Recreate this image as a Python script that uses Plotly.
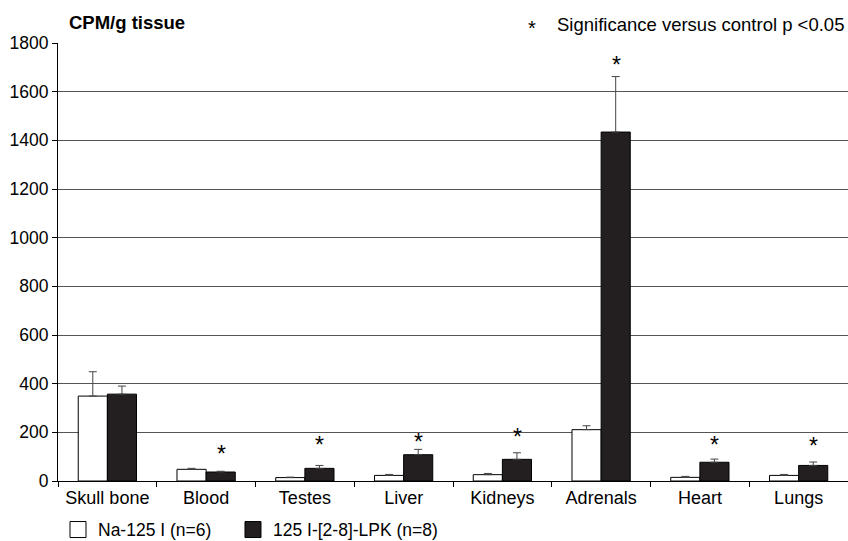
import plotly.graph_objects as go

categories = ["Skull bone", "Blood", "Testes", "Liver", "Kidneys", "Adrenals", "Heart", "Lungs"]
na125 = [349, 48, 14, 23, 26, 211, 15, 23]
na125_err = [100, 4, 2, 4, 5, 16, 4, 4]
lpk = [357, 37, 52, 108, 89, 1434, 77, 64]
lpk_err = [33, 3, 12, 22, 27, 228, 13, 14]
star_cats = ["Blood", "Testes", "Liver", "Kidneys", "Adrenals", "Heart", "Lungs"]
star_y = [124, 161, 173, 193, 1721, 160, 156]
yticks = [0, 200, 400, 600, 800, 1000, 1200, 1400, 1600, 1800]

FONT = "Liberation Sans, Arial, sans-serif"

fig = go.Figure()
fig.add_trace(go.Bar(
    x=categories, y=na125, name="Na-125 I (n=6)",
    marker=dict(color="white", line=dict(color="black", width=1)),
    error_y=dict(type="data", array=na125_err, arrayminus=[0]*8, symmetric=False,
                 color="#444", thickness=1, width=4),
    showlegend=False,
))
fig.add_trace(go.Bar(
    x=categories, y=lpk, name="125 I-[2-8]-LPK (n=8)",
    marker=dict(color="#231f20", line=dict(color="black", width=1)),
    error_y=dict(type="data", array=lpk_err, arrayminus=[0]*8, symmetric=False,
                 color="#444", thickness=1, width=4),
    showlegend=False,
))
# legend proxies
fig.add_trace(go.Scatter(x=[None], y=[None], mode="markers", name="Na-125 I (n=6)",
                         legend="legend",
                         marker=dict(symbol="square", size=16, color="white",
                                     line=dict(color="black", width=1))))
fig.add_trace(go.Scatter(x=[None], y=[None], mode="markers", name="125 I-[2-8]-LPK (n=8)",
                         legend="legend2",
                         marker=dict(symbol="square", size=16, color="#231f20",
                                     line=dict(color="black", width=1))))

annotations = []
for c, yv in zip(star_cats, star_y):
    annotations.append(dict(x=c, y=yv, xref="x", yref="y", text="*", showarrow=False,
                            xshift=15, yanchor="middle", yshift=-3,
                            font=dict(size=23, color="black", family=FONT)))
annotations.append(dict(x=0.011, y=1.0, xref="paper", yref="paper", text="<b>CPM/g tissue</b>",
                        showarrow=False, xanchor="left", yanchor="bottom", yshift=8,
                        font=dict(size=18.5, color="black", family=FONT)))
annotations.append(dict(x=1.0, y=1.0, xref="paper", yref="paper",
                        text="Significance versus control p &lt;0.05",
                        showarrow=False, xanchor="right", yanchor="bottom", xshift=-2, yshift=6,
                        font=dict(size=18.5, color="black", family=FONT)))
annotations.append(dict(x=1.0, y=1.0, xref="paper", yref="paper",
                        text="*",
                        showarrow=False, xanchor="center", yanchor="bottom", xshift=-316, yshift=2,
                        font=dict(size=20, color="black", family=FONT)))

legend_style = dict(orientation="h", y=-0.07, xanchor="left", yanchor="top",
                    font=dict(size=17.5, family=FONT, color="black"), itemsizing="trace",
                    bgcolor="rgba(0,0,0,0)")

fig.update_layout(
    width=848, height=541,
    margin=dict(l=58, r=0, t=43, b=60, autoexpand=False),
    paper_bgcolor="white", plot_bgcolor="white",
    barmode="group", bargap=0.41, bargroupgap=0,
    font=dict(family=FONT, size=18, color="black"),
    showlegend=True,
    legend=dict(x=0.0, **legend_style),
    legend2=dict(x=0.2215, **legend_style),
    annotations=annotations,
)
fig.update_xaxes(
    categoryorder="array", categoryarray=categories,
    showline=True, linecolor="black", linewidth=1,
    ticks="outside", tickson="boundaries", ticklen=5, tickcolor="black",
    showgrid=False, tickfont=dict(size=18), automargin=False,
)
fig.update_yaxes(
    range=[0, 1800], tickvals=yticks, ticktext=[str(v) for v in yticks],
    showline=True, linecolor="black", linewidth=1,
    ticks="outside", ticklen=5, tickcolor="black",
    showgrid=True, gridcolor="#555", gridwidth=1, zeroline=False,
    tickfont=dict(size=17.5), automargin=False,
)

fig.write_html("out.html", config={"displayModeBar": False},
               post_script="document.body.style.margin='0';document.body.style.overflow='hidden';")
